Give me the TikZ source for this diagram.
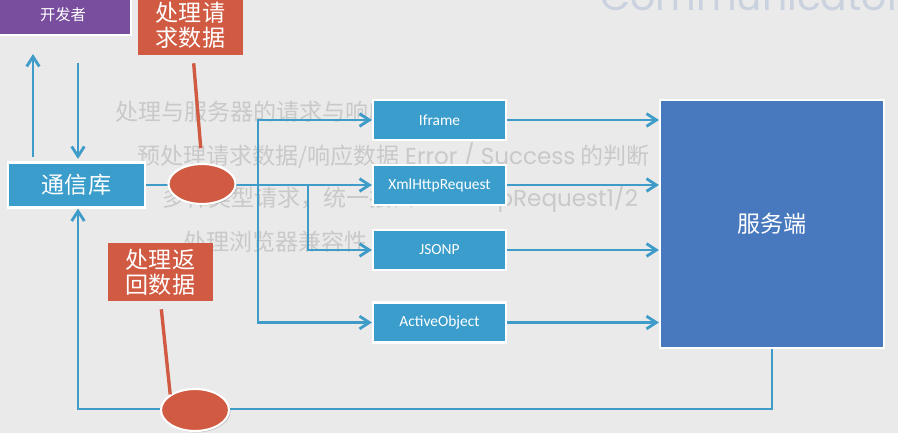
\documentclass[tikz,border=0pt]{standalone}
\usepackage{fontspec}
\setmainfont{Noto Sans CJK SC}
\newfontfamily\uifont{Carlito}
\newfontfamily\geofont{Poppins}
\usetikzlibrary{arrows.meta,shapes.geometric,shadows}

\definecolor{bgcol}{HTML}{EAEAEA}
\definecolor{fadecol}{HTML}{C9C9C9}
\definecolor{titlecol}{HTML}{C9D2DE}
\definecolor{linkcol}{HTML}{3F9CC8}
\definecolor{boxcol}{HTML}{3A9DCB}
\definecolor{srvcol}{HTML}{4879BE}
\definecolor{notecol}{HTML}{D05A42}
\definecolor{devcol}{HTML}{7A4E9E}

\begin{document}
\begin{tikzpicture}[x=0.025cm,y=-0.025cm,
		shade box/.style={draw=white, line width=1.5pt, inner sep=0pt, text=white,
			drop shadow={shadow xshift=1pt, shadow yshift=-1pt, fill=black, opacity=0.18}},
		libbox/.style={shade box, rectangle, fill=boxcol, minimum width=3.325cm, minimum height=1cm,
			font=\uifont\fontsize{11}{13}\selectfont},
		notebox/.style={rectangle, fill=notecol, inner sep=0pt, text=white, align=center,
			font=\fontsize{16.4}{17.8}\selectfont},
		blob/.style={shade box, ellipse, fill=notecol},
		link/.style={draw=linkcol, line width=2pt},
		flow/.style={link, -{Straight Barb[length=7pt,width=9pt]}},
		callout/.style={draw=notecol, line width=2.4pt},
		fade/.style={anchor=west, inner sep=0pt, text=fadecol, font=\fontsize{16.4}{18}\selectfont}]
		\useasboundingbox (0,0) rectangle (898,433);
		\clip (0,0) rectangle (898,433);
		\fill[bgcol] (0,0) rectangle (898,433);
		
		% slide behind the overlay
		\node[anchor=base west, inner sep=0pt, text=titlecol, font=\geofont\fontsize{28}{30}\selectfont] (title) at (600,11) {Communicator};
		\node[fade] (t1) at (115,112) {处理与服务器的请求与响应};
		\node[fade] (t2) at (137,156) {预处理请求数据/响应数据 {\geofont Error / Success} 的判断};
		\node[fade] (t3) at (162,199) {多种类型请求，统一接口 {\geofont XmlHttpRequest1/2}};
		\node[fade] (t4) at (183,242) {处理浏览器兼容性};
		
		\node[shade box, rectangle, fill=devcol, minimum width=3.4cm, minimum height=1cm,
			font=\fontsize{10.9}{12}\selectfont] (dev) at (63,15) {开发者};
		\node[notebox, minimum width=2.625cm, minimum height=1.5cm] (req) at (190.5,25) {处理请\\求数据};
		\node[shade box, rectangle, fill=boxcol, minimum width=3.425cm, minimum height=1.125cm,
			font=\fontsize{16.4}{18}\selectfont] (tx) at (76.5,185) {通信库};
		
		\node[libbox] (ifr) at (439.5,120) {Iframe};
		\node[libbox] (xhr) at (439.5,185) {XmlHttpRequest};
		\node[libbox] (jsonp) at (439.5,250) {JSONP};
		\node[libbox] (aox) at (439.5,322.5) {ActiveObject};
		
		\node[shade box, rectangle, fill=srvcol, minimum width=5.6cm, minimum height=6.2cm,
			font=\fontsize{16.4}{18}\selectfont] (srv) at (772,224) {服务端};
		\node[notebox, minimum width=2.625cm, minimum height=1.45cm] (rbox) at (160.5,272) {处理返\\回数据};
		
		\coordinate (j1) at (258,185);
		\coordinate (j2) at (308,185);
		\coordinate (up) at (33,0);
		\coordinate (dn) at (78,0);
		\coordinate (ret) at (78,409);
		
		\draw[flow, shorten <=3.2pt, shorten >=12.8pt] (tx.north -| up) -- (dev.south -| up);
		\draw[flow, shorten <=19.2pt, shorten >=1.8pt] (dev.south -| dn) -- (tx.north -| dn);
		
		\draw[flow] (tx) -- (xhr);
		\draw[flow] (j1) |- (ifr);
		\draw[flow] (j1) |- (aox);
		\draw[flow] (j2) |- (jsonp);
		
		\draw[flow] (ifr) -- (ifr -| srv.west);
		\draw[flow] (xhr) -- (xhr -| srv.west);
		\draw[flow] (jsonp) -- (jsonp -| srv.west);
		\draw[flow] (aox) -- (aox -| srv.west);
		
		\draw[flow] (srv) |- (ret) -- (tx.south -| ret);
		
		\node[blob, minimum width=1.675cm, minimum height=1cm] (e1) at (202,184) {};
		\node[blob, minimum width=1.7cm, minimum height=1.05cm] (e2) at (195,410) {};
		
		\draw[callout, shorten <=5.7pt, shorten >=10.5pt] (req) -- (e1.north);
		\draw[callout, shorten <=5.7pt] (rbox.south) -- (e2.north west);
	\end{tikzpicture}
\end{document}
